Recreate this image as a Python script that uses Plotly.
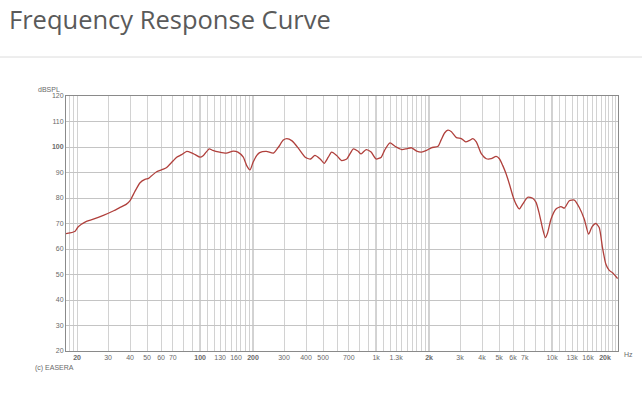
import plotly.graph_objects as go

# ---- data ----
freq_hz = [17.3, 18.2, 19.5, 20.3, 22.6, 24.5, 28.2, 32.3, 35.1, 38.0, 40, 42.7, 45.6, 48.6, 51, 53, 56.6,
           61.9, 64.6, 69, 73.6, 78.6, 84, 89.6, 93.8, 100, 104.5, 112.7, 118, 129, 141, 154, 164,
           176, 184, 192, 200, 210, 218, 238, 261, 279, 297, 311, 333, 364, 396, 424, 449, 481,
           507, 535, 559, 597, 637, 681, 743, 788, 822, 878, 937, 1000, 1070, 1117, 1200, 1280,
           1400, 1490, 1590, 1700, 1810, 1935, 2060, 2250, 2340, 2450, 2560, 2680, 2860, 3050,
           3230, 3400, 3550, 3710, 3960, 4230, 4510, 4810, 5020, 5240, 5480, 5720, 5980, 6240,
           6520, 6810, 7270, 7760, 8110, 8470, 8850, 9160, 9440, 9860, 10530, 11240, 11740,
           12530, 13380, 14280, 15250, 16130, 16860, 17730, 18530, 19350, 20230, 21130, 22070,
           23570]
spl_db = [66.0, 66.3, 67.0, 68.7, 70.8, 71.6, 73.2, 75.0, 76.3, 77.5, 79.0, 82.7, 86.0, 87.3, 87.7, 88.7,
          90.3, 91.3, 92.0, 94.0, 96.0, 97.0, 98.3, 97.7, 97.0, 96.0, 96.7, 99.3, 98.7, 98.0,
          97.6, 98.4, 98.0, 96.0, 92.7, 91.0, 94.0, 96.7, 97.8, 98.3, 97.6, 100.0, 102.7, 103.3,
          102.4, 99.3, 96.0, 95.3, 96.7, 95.3, 93.6, 96.0, 98.0, 96.7, 94.7, 95.3, 99.3, 98.4,
          97.3, 99.0, 98.0, 95.3, 96.0, 98.7, 101.6, 100.3, 99.0, 99.3, 99.7, 98.4, 98.0, 98.7,
          99.7, 100.3, 102.7, 105.5, 106.6, 106.0, 103.7, 103.3, 102.0, 102.6, 103.3, 102.0,
          97.4, 95.4, 95.4, 96.3, 95.4, 92.8, 89.5, 85.5, 80.9, 77.6, 75.7, 77.6, 80.3, 79.9,
          78.3, 73.7, 67.8, 64.5, 66.4, 71.7, 75.7, 76.6, 76.0, 78.9, 79.2, 76.3, 71.7, 65.8,
          68.7, 70.0, 68.4, 60.5, 54.0, 51.6, 50.7, 48.4]

x_tick_vals = [20, 30, 40, 50, 60, 70, 100, 130, 160, 200, 300, 400, 500, 700, 1000, 1300,
               2000, 3000, 4000, 5000, 6000, 7000, 10000, 13000, 16000, 20000]
x_tick_text = ["<b>20</b>", "30", "40", "50", "60", "70", "<b>100</b>", "130", "160", "<b>200</b>",
               "300", "400", "500", "700", "1k", "1.3k", "<b>2k</b>", "3k", "4k", "5k", "6k", "7k",
               "10k", "13k", "16k", "<b>20k</b>"]
y_tick_vals = [20, 30, 40, 50, 60, 70, 80, 90, 100, 110, 120]
y_tick_text = ["20", "30", "40", "50", "60", "70", "80", "90", "<b>100</b>", "110", "120"]

grid_freqs = ([18, 19] + list(range(20, 101, 10)) + list(range(110, 201, 10)) +
              list(range(300, 1001, 100)) + list(range(1100, 2001, 100)) +
              list(range(3000, 10001, 1000)) + list(range(11000, 23001, 1000)))
dark_freqs = [100, 200, 1000, 2000, 10000]

W, H = 642, 400
L, R, T, B = 66, 24, 96, 49
PW, PH = W - L - R, H - T - B


def px(xp):
    return (xp - L) / PW


def py(yp):
    return (H - B - yp) / PH


fig = go.Figure()
fig.add_trace(go.Scatter(x=freq_hz, y=spl_db, mode="lines",
                         line=dict(color="#b0403c", width=1.3, shape="spline", smoothing=0.6),
                         hoverinfo="x+y", showlegend=False))

small = dict(family="Liberation Sans, Arial, sans-serif", size=7, color="#6a6a6a")

fig.update_layout(
    width=W, height=H,
    margin=dict(l=L, r=R, t=T, b=B),
    paper_bgcolor="white", plot_bgcolor="white",
    xaxis=dict(type="log", range=[1.238, 4.3747],
               tickmode="array", tickvals=x_tick_vals, ticktext=x_tick_text,
               showgrid=False, zeroline=False, ticks="", tickfont=small,
               showline=True, linecolor="#8a8a8a", linewidth=1, mirror=True,
               minor=dict(tickmode="array", tickvals=grid_freqs, showgrid=True,
                          gridcolor="#d2d2d2", gridwidth=1, ticks="")),
    yaxis=dict(range=[20, 120], tickmode="array", tickvals=y_tick_vals, ticktext=y_tick_text,
               showgrid=True, gridcolor="#c4c4c4", gridwidth=1, zeroline=False, ticks="",
               tickfont=small, showline=True, linecolor="#8a8a8a", linewidth=1, mirror=True),
    font=dict(family="Liberation Sans, Arial, sans-serif"),
)

for f in dark_freqs:
    fig.add_shape(type="line", xref="x", yref="paper", x0=f, x1=f, y0=0, y1=1,
                  line=dict(color="#9a9a9a", width=1), layer="below")

# separator line under the page title
fig.add_shape(type="line", xref="paper", yref="paper", x0=px(0), x1=px(W), y0=py(57), y1=py(57),
              line=dict(color="#dcdcdc", width=1))

fig.add_annotation(text="Frequency Response Curve", xref="paper", yref="paper",
                   x=px(7), y=py(19), xanchor="left", yanchor="middle", showarrow=False,
                   font=dict(family="Open Sans, sans-serif", size=25.5, color="#5a5a5a"))
fig.add_annotation(text="dBSPL", xref="paper", yref="paper", x=px(62), y=py(89),
                   xanchor="right", yanchor="middle", showarrow=False, font=small)
fig.add_annotation(text="(c) EASERA", xref="paper", yref="paper", x=px(33), y=py(368),
                   xanchor="left", yanchor="middle", showarrow=False, font=small)
fig.add_annotation(text="Hz", xref="paper", yref="paper", x=px(622), y=py(354),
                   xanchor="left", yanchor="middle", showarrow=False, font=small)

fig.write_html("out.html", config={"displayModeBar": False},
               post_script="document.body.style.margin='0';document.body.style.overflow='hidden';")
